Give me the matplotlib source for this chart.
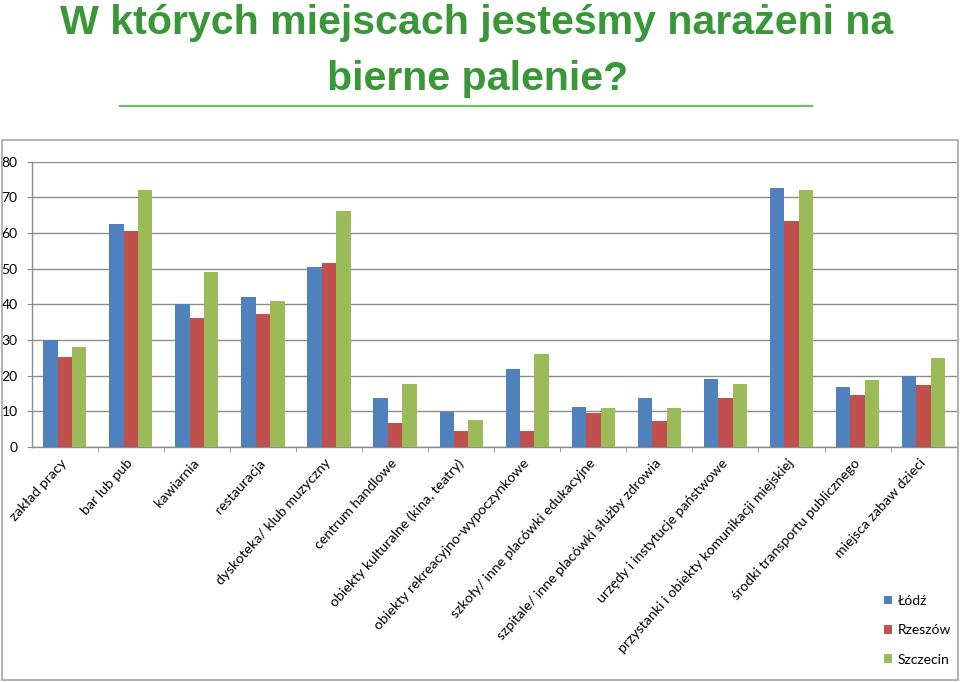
import matplotlib.pyplot as plt
import numpy as np
from matplotlib.lines import Line2D
from matplotlib.patches import Rectangle

plt.rcParams.update({
    "font.family": ["Lato", "DejaVu Sans"],
})

categories = [
    "zakład pracy", "bar lub pub", "kawiarnia", "restauracja",
    "dyskoteka/ klub muzyczny", "centrum handlowe",
    "obiekty kulturalne (kina, teatry)", "obiekty rekreacyjno-wypoczynkowe",
    "szkoły/ inne placówki edukacyjne", "szpitale/ inne placówki służby zdrowia",
    "urzędy i instytucje państwowe", "przystanki i obiekty komunikacji miejskiej",
    "środki transportu publicznego", "miejsca zabaw dzieci",
]
lodz     = [30.1, 62.6, 40.0, 42.2, 50.5, 13.6, 9.8, 21.9, 11.1, 13.8, 19.1, 72.6, 16.7, 19.8]
rzeszow  = [25.3, 60.5, 36.3, 37.4, 51.5, 6.6, 4.6, 4.6, 9.5, 7.3, 13.6, 63.3, 14.6, 17.4]
szczecin = [28.1, 72.2, 49.1, 40.8, 66.1, 17.7, 7.7, 26.0, 10.8, 10.8, 17.7, 72.2, 18.7, 25.0]
series_names = ["Łódź", "Rzeszów", "Szczecin"]
colors = ["#4F81BD", "#C0504D", "#9BBB59"]

fig = plt.figure(figsize=(9.6, 6.82), dpi=100)
ax = fig.add_axes([31.7 / 960, 1 - 447 / 682, 925 / 960, 285.3 / 682])

x = np.arange(len(categories))
w = 0.218
for i, (vals, name, c) in enumerate(zip([lodz, rzeszow, szczecin], series_names, colors)):
    ax.bar(x + (i - 1) * w, vals, width=w, color=c, label=name, zorder=3)

ax.set_xlim(-0.5, len(categories) - 0.5)
ax.set_ylim(0, 80)
ax.set_yticks(range(0, 81, 10))
ax.grid(axis="y", color="#8c8c8c", linewidth=1, zorder=0)
for s in ["top", "right"]:
    ax.spines[s].set_visible(False)
for s in ["left", "bottom"]:
    ax.spines[s].set_color("#8c8c8c")
    ax.spines[s].set_linewidth(1)

ax.tick_params(axis="y", length=3.6, color="#8c8c8c", labelsize=10, pad=6.5)
ax.set_xticks(x)
ax.set_xticklabels(categories, rotation=48, ha="right", rotation_mode="anchor",
                   va="center", fontsize=10.2)
ax.tick_params(axis="x", which="major", length=0, pad=10)
ax.set_xticks(np.arange(0.5, len(categories) - 0.5, 1), minor=True)
ax.tick_params(axis="x", which="minor", length=3.6, color="#8c8c8c")

fig.legend(loc="upper left", bbox_to_anchor=(877 / 960, 1 - 588 / 682),
           frameon=False, fontsize=10, handlelength=0.6, handleheight=0.6,
           handletextpad=0.4, labelspacing=1.25, borderpad=0)

# chart frame
fig.patches.append(Rectangle((2 / 960, 1 - 680 / 682), 956 / 960, 540 / 682,
                             transform=fig.transFigure, fill=False,
                             edgecolor="#a6a6a6", linewidth=1.2))

# title
title_color = "#389838"
title_font = ["Liberation Sans Narrow", "Liberation Sans", "DejaVu Sans"]
fig.text(0.497, 1 - 34 / 682, "W których miejscach jesteśmy narażeni na",
         ha="center", va="baseline", fontsize=29.6, fontweight="bold",
         color=title_color, family=title_font)
fig.text(0.497, 1 - 90 / 682, "bierne palenie?",
         ha="center", va="baseline", fontsize=29.6, fontweight="bold",
         color=title_color, family=title_font)
fig.add_artist(Line2D([120 / 960, 812 / 960], [1 - 106 / 682, 1 - 106 / 682],
                      transform=fig.transFigure, color="#6dbe64", linewidth=1.6))

fig.savefig("out.png", dpi=100)
